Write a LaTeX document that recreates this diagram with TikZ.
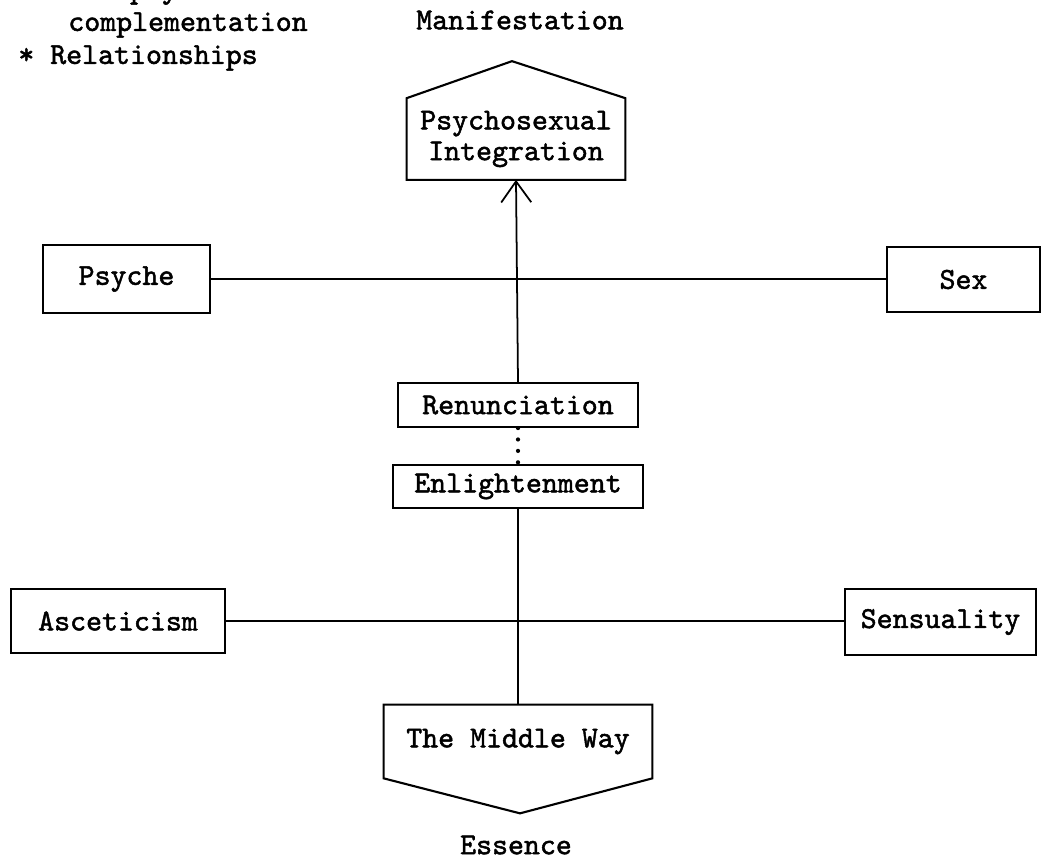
\documentclass[tikz,border=0pt]{standalone}
\usepackage{fontspec}
\newfontfamily\typer{lmmono10-regular.otf}[FakeBold=1.6]
\usetikzlibrary{positioning, arrows.meta, calc}

\begin{document}
\begin{tikzpicture}[x=0.02cm, y=-0.02cm,
    word/.style={font=\typer\fontsize{17.3}{17.5}\selectfont, inner sep=0pt},
    box/.style={word, rectangle, draw=black, line width=1.2pt}]

\useasboundingbox (0,0) rectangle (1041,859);

% notes in the corner
\node[word, anchor=west] (note1) at (18,-8) {* Interpsychic};
\node[word, anchor=west] (note2) at (68,25) {complementation};
\node[word, anchor=west] (note3) at (18,58) {* Relationships};

% top
\node[word] (manif) at (520,20) {Manifestation};
\node[word, minimum width=4.36cm, minimum height=1.62cm, align=center] (integ) at (516,139) {Psychosexual\\Integration};
\draw[line width=1.2pt] (integ.south west) -- (integ.north west) -- ([shift={(-4,-37)}]integ.north) -- (integ.north east) -- (integ.south east) -- cycle;

% pairs of opposites
\node[box, minimum width=3.34cm, minimum height=1.36cm] (psyche) at (126.5,279) {Psyche};
\node[box, minimum width=3.06cm, minimum height=1.3cm] (sex) at (963.5,279.5) {Sex};
\node[box, minimum width=4.28cm, minimum height=1.28cm] (ascet) at (118,621) {Asceticism};
\node[box, minimum width=3.82cm, minimum height=1.32cm] (sensu) at (940.5,622) {Sensuality};

% middle column
\node[box, minimum width=4.8cm, minimum height=0.88cm] (renun) at (518,405) {Renunciation};
\node[box, minimum width=5cm, minimum height=0.86cm] (enlight) at (518,486.5) {Enlightenment};

% bottom
\node[word, minimum width=5.36cm, minimum height=1.46cm] (midway) at (518,741.5) {The Middle Way};
\draw[line width=1.2pt] (midway.north west) -- (midway.north east) -- (midway.south east) -- ([shift={(2,35)}]midway.south) -- (midway.south west) -- cycle;
\node[word] (essence) at (516,845) {Essence};

% connections
\draw[line width=1pt] (psyche.east) -- (psyche.east -| sex.west);
\draw[line width=1pt] (ascet.east) -- (ascet.east -| sensu.west);
\draw[line width=1pt, -{Straight Barb[length=0.42cm, width=0.6cm, line width=1pt]}] (renun.north) -- (integ.south);
\draw[line width=2.4pt, line cap=round, dash pattern=on 0pt off 6.5pt] (renun.south) -- (enlight.north);
\draw[line width=1pt] (enlight.south) -- (midway.north);
\end{tikzpicture}
\end{document}
